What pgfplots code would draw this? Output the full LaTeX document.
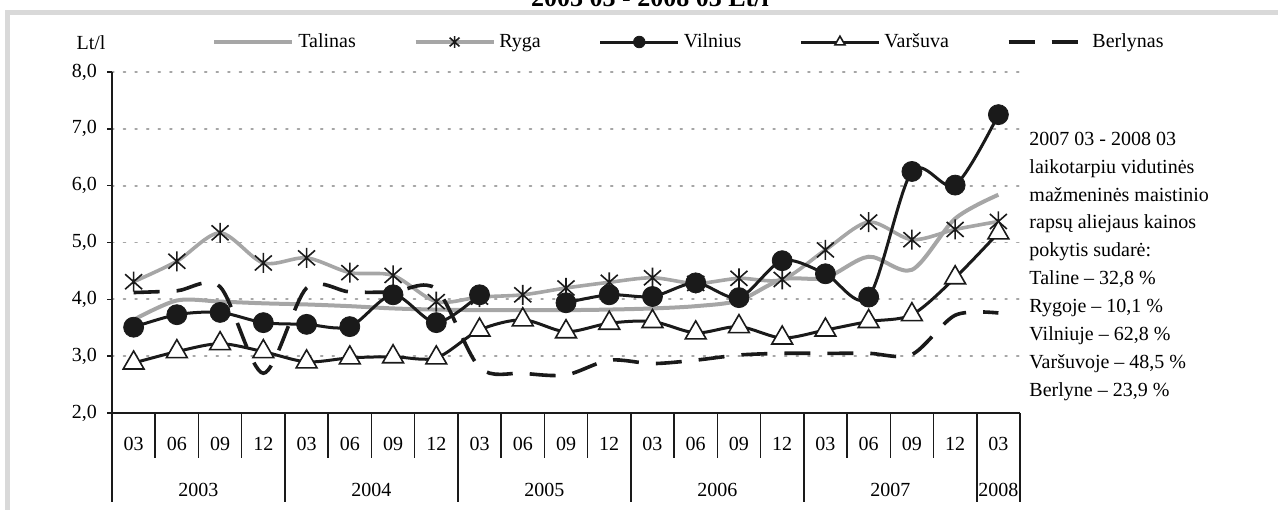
\documentclass[border=0pt]{standalone}
\usepackage{fontspec}
\setmainfont{Liberation Serif}
\usepackage{pgfplots}
\usepackage{pgfplotstable}
\pgfplotsset{compat=1.18}

\pgfdeclareplotmark{xstar}{%
  \pgfpathmoveto{\pgfqpoint{0pt}{\pgfplotmarksize}}%
  \pgfpathlineto{\pgfqpoint{0pt}{-\pgfplotmarksize}}%
  \pgfpathmoveto{\pgfqpoint{-.85\pgfplotmarksize}{.75\pgfplotmarksize}}%
  \pgfpathlineto{\pgfqpoint{.85\pgfplotmarksize}{-.75\pgfplotmarksize}}%
  \pgfpathmoveto{\pgfqpoint{-.85\pgfplotmarksize}{-.75\pgfplotmarksize}}%
  \pgfpathlineto{\pgfqpoint{.85\pgfplotmarksize}{.75\pgfplotmarksize}}%
  \pgfusepathqstroke}

\definecolor{lgray}{HTML}{A6A6A6}
\definecolor{frame}{HTML}{D9D9D9}
\definecolor{dk}{HTML}{1A1A1A}

% x: 0 = 2003-03 ... 20 = 2008-03
\pgfplotstableread{
x  tal   ryg   vil   var   ber
0  3.64  4.31  3.51  2.88  4.12
1  3.98  4.67  3.73  3.08  4.15
2  3.96  5.17  3.77  3.22  4.22
3  3.93  4.64  3.59  3.08  2.70
4  3.91  4.73  3.56  2.90  4.20
5  3.88  4.47  3.52  2.97  4.13
6  3.84  4.42  4.08  2.99  4.13
7  3.82  3.96  3.59  2.97  4.18
8  3.81  4.04  4.08  3.46  2.80
9  3.81  4.08  nan   3.64  2.70
10 3.81  4.20  3.94  3.43  2.67
11 3.82  4.30  4.08  3.58  2.93
12 3.84  4.38  4.05  3.61  2.87
13 3.88  4.28  4.29  3.41  2.93
14 3.98  4.37  4.03  3.52  3.02
15 4.35  4.35  4.68  3.32  3.05
16 4.38  4.87  4.45  3.46  3.05
17 4.75  5.36  4.04  3.61  3.05
18 4.52  5.05  6.25  3.73  3.03
19 5.42  5.23  6.01  4.38  3.72
20 5.84  5.37  7.25  5.17  3.76
}\data

\begin{document}
\begin{tikzpicture}
\useasboundingbox (0,0) rectangle (639pt,-254.5pt);
\clip (0,0) rectangle (639pt,-254.5pt);
% frame and cut title
\draw[frame, line width=2.4pt] (3.8pt,-260pt) -- (3.8pt,-6.3pt) -- (645pt,-6.3pt);
\node[anchor=base, font=\bfseries\fontsize{13}{15}\selectfont, inner sep=0pt] at (325pt,-3.2pt) {2003 03 - 2008 03 Lt/l};

\begin{axis}[
  at={(56pt,-206.5pt)}, anchor=south west,
  scale only axis, width=454pt, height=170.5pt,
  xmin=-0.5, xmax=20.5, ymin=2, ymax=8,
  axis x line*=bottom, axis y line*=left,
  axis line style={line width=0.75pt, dk},
  clip=false,
  ytick={2,3,4,5,6,7,8},
  ymajorgrids,
  grid style={line width=0.9pt, lgray, dash pattern=on 0.9pt off 4.9pt, line cap=round},
  tick align=outside,
  major tick length=2.5pt,
  every tick/.append style={line width=0.75pt, dk},
  every x tick/.append style={draw=none},
  /pgf/number format/fixed,
  /pgf/number format/fixed zerofill,
  /pgf/number format/precision=1,
  /pgf/number format/use comma,
  /pgf/number format/assume math mode=true,
  yticklabel style={xshift=-1.5pt, font=\fontsize{10}{12}\selectfont},
  xtick={0,...,20},
  xticklabels={03,06,09,12,03,06,09,12,03,06,09,12,03,06,09,12,03,06,09,12,03},
  xticklabel style={yshift=-6pt, font=\fontsize{10}{12}\selectfont},
  legend columns=5,
  legend cell align=left,
  legend style={draw=none, fill=none, inner sep=0pt,
    at={(axis description cs:0.110,1.088)}, anchor=west,
    font=\fontsize{10}{12}\selectfont,
    /tikz/every even column/.append style={column sep=27pt}},
  legend image code/.code={\draw[mark repeat=2,mark phase=2,#1,mark size=2.9pt] plot coordinates {(0pt,0pt) (19.5pt,0pt) (39pt,0pt)};},
]
\addplot[lgray, line width=2pt, smooth, tension=0.5, no markers] table[x=x,y=tal]{\data};
\addlegendentry{Talinas}
\addplot[lgray, line width=1.8pt, smooth, tension=0.5, mark=xstar, mark size=5pt,
  mark options={draw=dk, line width=0.8pt, solid}] table[x=x,y=ryg]{\data};
\addlegendentry{Ryga}
\addplot[dk, line width=1.5pt, smooth, tension=0.5, unbounded coords=jump, mark=*, mark size=5pt,
  mark options={fill=dk, draw=dk, line width=0.4pt, solid}] table[x=x,y=vil]{\data};
\addlegendentry{Vilnius}
\addplot[dk, line width=1.5pt, smooth, tension=0.5, mark=triangle*, mark size=6pt,
  mark options={fill=white, draw=dk, line width=0.8pt, solid}] table[x=x,y=var]{\data};
\addlegendentry{Varšuva}
\addplot[dk, line width=1.8pt, smooth, tension=0.5, dash pattern=on 13pt off 8.5pt, no markers] table[x=x,y=ber]{\data};
\addlegendentry{Berlynas}

% category separators
\pgfplotsinvokeforeach{0.5,1.5,2.5,4.5,5.5,6.5,8.5,9.5,10.5,12.5,13.5,14.5,16.5,17.5,18.5}{
  \draw[line width=0.75pt, dk] (axis cs:#1,2) -- ([yshift=-22.5pt]axis cs:#1,2);
}
\pgfplotsinvokeforeach{-0.5,3.5,7.5,11.5,15.5,19.5,20.5}{
  \draw[line width=0.75pt, dk] (axis cs:#1,2) -- ([yshift=-44.5pt]axis cs:#1,2);
}
\node[font=\fontsize{10}{12}\selectfont] at ([yshift=-38.5pt]axis cs:1.5,2) {2003};
\node[font=\fontsize{10}{12}\selectfont] at ([yshift=-38.5pt]axis cs:5.5,2) {2004};
\node[font=\fontsize{10}{12}\selectfont] at ([yshift=-38.5pt]axis cs:9.5,2) {2005};
\node[font=\fontsize{10}{12}\selectfont] at ([yshift=-38.5pt]axis cs:13.5,2) {2006};
\node[font=\fontsize{10}{12}\selectfont] at ([yshift=-38.5pt]axis cs:17.5,2) {2007};
\node[font=\fontsize{10}{12}\selectfont] at ([yshift=-38.5pt]axis cs:20,2) {2008};

\node[font=\fontsize{10}{12}\selectfont] at (axis description cs:-0.0231,1.085) {Lt/l};

\node[anchor=north west, align=left, inner sep=0pt, font=\fontsize{10}{13.95}\selectfont]
  at (axis description cs:1.010,0.8255) {2007 03 - 2008 03\\laikotarpiu vidutinės\\mažmeninės maistinio\\rapsų aliejaus kainos\\pokytis sudarė:\\Taline – 32,8 \%\\Rygoje – 10,1 \%\\Vilniuje – 62,8 \%\\Varšuvoje – 48,5 \%\\Berlyne – 23,9 \%};
\end{axis}
\end{tikzpicture}
\end{document}
